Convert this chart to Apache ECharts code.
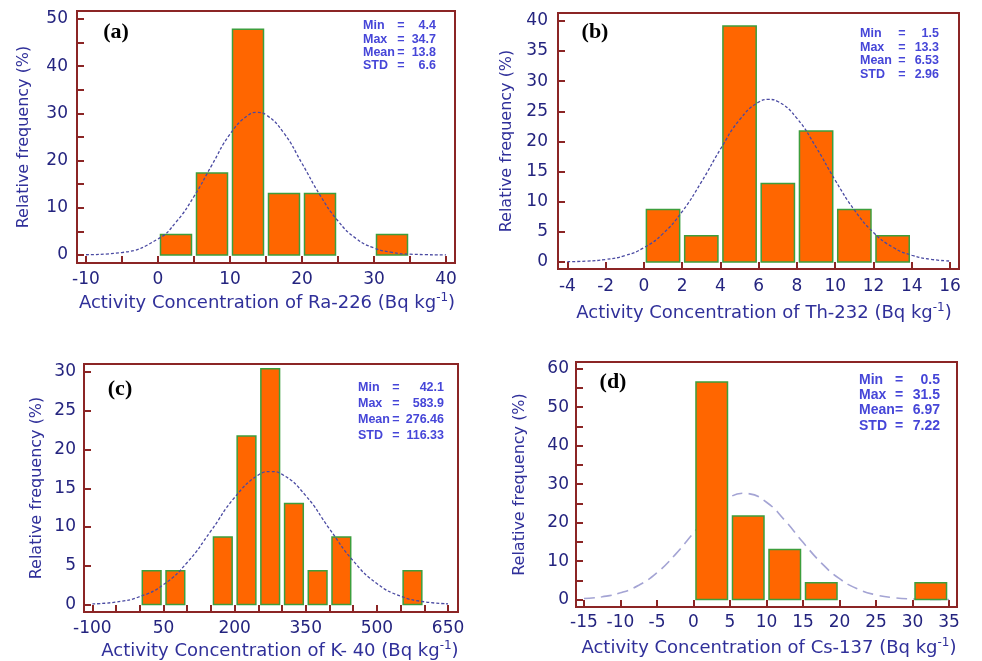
<!DOCTYPE html>
<html>
<head>
<meta charset="utf-8">
<script src="https://cdn.jsdelivr.net/npm/echarts@6.0.0/dist/echarts.min.js"></script>
<style>html,body{margin:0;padding:0;background:#fff}#chart{width:982px;height:661px}</style>
</head>
<body>
<div id="chart"></div>
<script>
// histogram bins (start of bin) and relative frequency (%)
var raBinStart = [0, 5, 10, 15, 20, 30], raBinWidth = 5;
var raFreq = [4.35, 17.39, 47.83, 13.04, 13.04, 4.35];
var thBinStart = [0, 2, 4, 6, 8, 10, 12], thBinWidth = 2;
var thFreq = [8.70, 4.35, 39.13, 13.04, 21.74, 8.70, 4.35];
var kBinStart = [0, 50, 150, 200, 250, 300, 350, 400, 550], kBinWidth = 50;
var kFreq = [4.35, 4.35, 8.70, 21.74, 30.43, 13.04, 4.35, 8.70, 4.35];
var csBinStart = [0, 5, 10, 15, 30], csBinWidth = 5;
var csFreq = [56.52, 21.74, 13.04, 4.35, 4.35];

// fitted normal curves
var raCurveX = [-10, -5, 0, 2.5, 5, 7.5, 10, 12.5, 13.8, 15, 17.5, 20, 22.5, 25, 27.5, 30, 32.5, 35, 40];
var raCurveY = [0.05, 0.52, 3.39, 6.97, 12.4, 19.1, 25.6, 29.6, 30.2, 29.7, 25.8, 19.4, 12.7, 7.2, 3.5, 1.48, 0.55, 0.17, 0.01];
var thCurveX = [-4, -3, -2, -1, 0, 1, 2, 3, 4, 5, 6, 6.53, 7, 8, 9, 10, 11, 12, 13, 14, 15, 16];
var thCurveY = [0.05, 0.15, 0.42, 1.06, 2.37, 4.71, 8.36, 13.24, 18.71, 23.59, 26.53, 26.96, 26.62, 23.83, 19.03, 13.56, 8.63, 4.89, 2.47, 1.12, 0.45, 0.16];
var kCurveX = [-100, -50, 0, 50, 100, 150, 200, 250, 276.46, 300, 350, 400, 450, 500, 550, 600, 650];
var kCurveY = [0.09, 0.33, 1.02, 2.58, 5.43, 9.50, 13.82, 16.71, 17.15, 16.80, 14.04, 9.76, 5.64, 2.71, 1.08, 0.36, 0.10];
var csCurveX = [-15, -12.5, -10, -7.5, -5, -2.5, 0, 2.5, 5, 6.97, 7.5, 10, 12.5, 15, 17.5, 20, 22.5, 25, 27.5, 30, 32.5, 35];
var csCurveY = [0.27, 0.73, 1.75, 3.71, 6.99, 11.69, 17.34, 22.81, 26.62, 27.63, 27.56, 25.30, 20.61, 14.88, 9.54, 5.42, 2.74, 1.22, 0.48, 0.17, 0.05, 0.01];

// tick labels and tick marks
var raXLabels = [-10, 0, 10, 20, 30, 40];
var raXTicks = [-10, -5, 0, 5, 10, 15, 20, 25, 30, 35, 40];
var raYLabels = [0, 10, 20, 30, 40, 50];
var raYTicks = [0, 5, 10, 15, 20, 25, 30, 35, 40, 45, 50];
var thXLabels = [-4, -2, 0, 2, 4, 6, 8, 10, 12, 14, 16];
var thYLabels = [0, 5, 10, 15, 20, 25, 30, 35, 40];
var kXLabels = [-100, 50, 200, 350, 500, 650];
var kXTicks = [-100, -50, 0, 50, 100, 150, 200, 250, 300, 350, 400, 450, 500, 550, 600, 650];
var kYLabels = [0, 5, 10, 15, 20, 25, 30];
var csXLabels = [-15, -10, -5, 0, 5, 10, 15, 20, 25, 30, 35];
var csYLabels = [0, 10, 20, 30, 40, 50, 60];
var csYTicks = [0, 5, 10, 15, 20, 25, 30, 35, 40, 45, 50, 55, 60];

// summary stats
var statNames = ['Min', 'Max', 'Mean', 'STD'];
var raStats = ['4.4', '34.7', '13.8', '6.6'];
var thStats = ['1.5', '13.3', '6.53', '2.96'];
var kStats = ['42.1', '583.9', '276.46', '116.33'];
var csStats = ['0.5', '31.5', '6.97', '7.22'];

var BOX = '#8b2525', TICKTXT = '#24247f', TITLE = '#30309a', STAT = '#4646d8';

function makeBars(starts, w, freq) {
  return starts.map(function (s, i) { return [s, s + w, freq[i]]; });
}
function makeCurve(xs, ys) {
  return xs.map(function (x, i) { return [x, ys[i]]; });
}

var dotted = { color: '#4a4aa2', width: 1.3, type: [3, 2] };
var dashed = { color: '#a4a4d4', width: 1.6, type: [11, 6] };

var panels = [
  { grid: { left: 77, top: 11, width: 378, height: 252 }, x: [-11.25, 41.25], y: [-1.7, 51.7],
    xl: raXLabels, xt: raXTicks, yl: raYLabels, yt: raYTicks, gap: 45, xm: 8, ym: 9,
    bars: makeBars(raBinStart, raBinWidth, raFreq), curve: makeCurve(raCurveX, raCurveY), ls: dotted, top: true },
  { grid: { left: 558, top: 13, width: 401, height: 256 }, x: [-4.49, 16.47], y: [-1.16, 41.3],
    xl: thXLabels, xt: thXLabels, yl: thYLabels, yt: thYLabels, gap: 43, xm: 9, ym: 10,
    bars: makeBars(thBinStart, thBinWidth, thFreq), curve: makeCurve(thCurveX, thCurveY), ls: dotted, top: true },
  { grid: { left: 84, top: 364, width: 374, height: 248 }, x: [-117.7, 671], y: [-0.96, 31.03],
    xl: kXLabels, xt: kXTicks, yl: kYLabels, yt: kYLabels, gap: 39, xm: 8, ym: 8,
    bars: makeBars(kBinStart, kBinWidth, kFreq), curve: makeCurve(kCurveX, kCurveY), ls: dotted, top: true },
  { grid: { left: 576, top: 362, width: 381, height: 245 }, x: [-16.09, 36.09], y: [-1.93, 61.75],
    xl: csXLabels, xt: csXLabels, yl: csYLabels, yt: csYTicks, gap: 48, xm: 7, ym: 7,
    bars: makeBars(csBinStart, csBinWidth, csFreq), curve: makeCurve(csCurveX, csCurveY), ls: dashed, top: false }
];

var option = { animation: false, grid: [], xAxis: [], yAxis: [], series: [], graphic: [] };

panels.forEach(function (p, i) {
  option.grid.push(Object.assign({ show: true, borderColor: BOX, borderWidth: 2 }, p.grid));
  option.xAxis.push({
    type: 'value', gridIndex: i, min: p.x[0], max: p.x[1],
    axisLine: { show: false, onZero: false }, splitLine: { show: false },
    axisTick: { show: true, inside: true, length: 7, customValues: p.xt, lineStyle: { color: BOX, width: 2 } },
    axisLabel: { customValues: p.xl, margin: p.xm, color: TICKTXT, fontSize: 17, fontFamily: 'DejaVu Sans' }
  });
  option.yAxis.push({
    type: 'value', gridIndex: i, min: p.y[0], max: p.y[1],
    name: 'Relative frequency (%)', nameLocation: 'middle', nameGap: p.gap,
    nameTextStyle: { color: TITLE, fontSize: 16, fontFamily: 'DejaVu Sans' },
    axisLine: { show: false, onZero: false }, splitLine: { show: false },
    axisTick: { show: true, inside: true, length: 7, customValues: p.yt, lineStyle: { color: BOX, width: 2 } },
    axisLabel: { customValues: p.yl, margin: p.ym, color: TICKTXT, fontSize: 17, fontFamily: 'DejaVu Sans' }
  });
  option.series.push({
    type: 'custom', xAxisIndex: i, yAxisIndex: i, z: 2, data: p.bars, encode: { x: [0, 1], y: 2 },
    renderItem: function (params, api) {
      var a = api.coord([api.value(0), 0]);
      var b = api.coord([api.value(1), api.value(2)]);
      return {
        type: 'rect',
        shape: { x: a[0] + 2.5, y: b[1], width: b[0] - a[0] - 5, height: a[1] - b[1] },
        style: { fill: '#ff6600', stroke: '#3d9e3d', lineWidth: 1.5 }
      };
    }
  });
  option.series.push({
    type: 'line', xAxisIndex: i, yAxisIndex: i, z: p.top ? 3 : 1, data: p.curve,
    smooth: true, showSymbol: false, symbol: 'none', lineStyle: p.ls, silent: true
  });
});

function statBlock(vals, c) {
  var out = [];
  statNames.forEach(function (n, i) {
    var y = c.y + i * c.dy;
    var base = { fill: STAT, fontSize: c.size, fontWeight: 'bold', fontFamily: 'Liberation Sans', verticalAlign: 'middle' };
    out.push({ type: 'text', x: c.x, y: y, style: Object.assign({ text: n, align: 'left' }, base) });
    out.push({ type: 'text', x: c.eq, y: y, style: Object.assign({ text: '=', align: 'center' }, base) });
    out.push({ type: 'text', x: c.right, y: y, style: Object.assign({ text: vals[i], align: 'right' }, base) });
  });
  return out;
}

function xTitle(label, cx, cy) {
  return {
    type: 'text', x: cx, y: cy,
    style: {
      text: '{m|Activity Concentration of ' + label + ' (Bq kg}{s|-1}{m|)}',
      align: 'center', verticalAlign: 'middle',
      rich: {
        m: { fill: TITLE, fontSize: 18, fontFamily: 'DejaVu Sans', lineHeight: 22 },
        s: { fill: TITLE, fontSize: 12, fontFamily: 'DejaVu Sans', lineHeight: 13, verticalAlign: 'top' }
      }
    }
  };
}

function letter(t, cx, cy) {
  return { type: 'text', x: cx, y: cy, style: { text: t, fill: '#000', fontSize: 22, fontWeight: 'bold', fontFamily: 'Liberation Serif', align: 'center', verticalAlign: 'middle' } };
}

option.graphic = [].concat(
  statBlock(raStats, { x: 363, eq: 401, right: 436, y: 26, dy: 13.3, size: 12.5 }),
  statBlock(thStats, { x: 860, eq: 902, right: 939, y: 34, dy: 13.4, size: 12.5 }),
  statBlock(kStats, { x: 358, eq: 396, right: 444, y: 388, dy: 16, size: 12.5 }),
  statBlock(csStats, { x: 859, eq: 899, right: 940, y: 380, dy: 15.3, size: 14 }),
  [xTitle('Ra-226', 267, 303), xTitle('Th-232', 764, 313), xTitle('K- 40', 280, 651), xTitle('Cs-137', 769, 648)],
  [letter('(a)', 116, 32), letter('(b)', 595, 32), letter('(c)', 120, 389), letter('(d)', 613, 382)]
);

var chart = echarts.init(document.getElementById('chart'));
chart.setOption(option);
</script>
</body>
</html>
